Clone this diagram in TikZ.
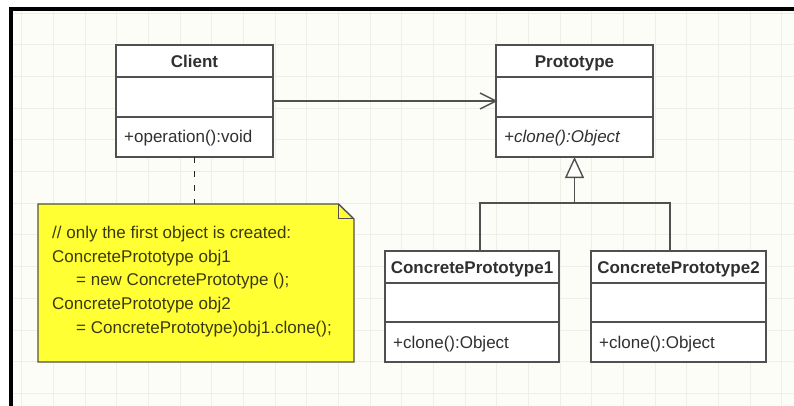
\documentclass[tikz,border=0pt]{standalone}
\usepackage{fontspec}
\setmainfont{Liberation Sans}
\usetikzlibrary{arrows.meta}
\definecolor{bgc}{HTML}{FDFDF7}
\definecolor{gridc}{HTML}{EFEFE9}
\definecolor{linec}{HTML}{505050}
\definecolor{notey}{HTML}{FFFF33}
\definecolor{txt}{HTML}{303030}
\definecolor{notetxt}{HTML}{3A3A10}
\begin{document}
\begin{tikzpicture}[x=1pt,y=-1pt,
 classbox/.style={draw=linec, line width=1.4pt, fill=white, minimum width=157pt, minimum height=112pt, inner sep=0pt, outer sep=0pt},
 classtitle/.style={font=\fontsize{17}{20}\selectfont\bfseries, text=txt, inner sep=0pt, anchor=base},
 member/.style={font=\fontsize{17}{20}\selectfont, text=txt, inner sep=0pt, anchor=base west},
 notetext/.style={font=\fontsize{17}{20}\selectfont, text=notetxt, inner sep=0pt, anchor=base west},
 divider/.style={draw=linec, line width=1.4pt},
 conn/.style={draw=linec, line width=1.4pt},
 dashconn/.style={draw=black!85, line width=1.2pt, dash pattern=on 6pt off 8pt},
]
\useasboundingbox (0,0) rectangle (794,406);
% background, grid and frame
\fill[white] (0,0) rectangle (794,406);
\fill[bgc] (11,9) rectangle (794,406);
\foreach \i in {0,...,24} \draw[gridc, line width=1pt] (21.7+31.67*\i,11) -- (21.7+31.67*\i,406);
\foreach \j in {0,...,12} \draw[gridc, line width=1pt] (13,13.3+31.67*\j) -- (794,13.3+31.67*\j);
\fill[black] (9,7) rectangle (794,11);
\fill[black] (9,7) rectangle (13,406);

% Client
\node[classbox] (client) at (194.5,101) {};
\draw[divider] ([yshift=-32pt]client.north west) -- ([yshift=-32pt]client.north east);
\draw[divider] ([yshift=-72pt]client.north west) -- ([yshift=-72pt]client.north east);
\node[classtitle] (clientT) at ([yshift=-23pt]client.north) {Client};
\node[member] (clientOp) at ([xshift=8pt,yshift=-97.5pt]client.north west) {+operation():void};

% Prototype
\node[classbox] (proto) at (574.5,101) {};
\draw[divider] ([yshift=-32pt]proto.north west) -- ([yshift=-32pt]proto.north east);
\draw[divider] ([yshift=-72pt]proto.north west) -- ([yshift=-72pt]proto.north east);
\node[classtitle] (protoT) at ([yshift=-23pt]proto.north) {Prototype};
\node[member, font=\fontsize{17}{20}\selectfont\itshape] (protoOp) at ([xshift=8pt,yshift=-97.5pt]proto.north west) {+clone():Object};

% ConcretePrototype1
\node[classbox, minimum width=174pt, minimum height=111pt] (cp1) at (472,306.5) {};
\draw[divider] ([yshift=-32pt]cp1.north west) -- ([yshift=-32pt]cp1.north east);
\draw[divider] ([yshift=-71pt]cp1.north west) -- ([yshift=-71pt]cp1.north east);
\node[classtitle] (cp1T) at ([yshift=-22.5pt]cp1.north) {ConcretePrototype1};
\node[member] (cp1Op) at ([xshift=8pt,yshift=-97pt]cp1.north west) {+clone():Object};

% ConcretePrototype2
\node[classbox, minimum width=175pt, minimum height=111pt] (cp2) at (678.5,306.5) {};
\draw[divider] ([yshift=-32pt]cp2.north west) -- ([yshift=-32pt]cp2.north east);
\draw[divider] ([yshift=-71pt]cp2.north west) -- ([yshift=-71pt]cp2.north east);
\node[classtitle] (cp2T) at ([yshift=-22.5pt]cp2.north) {ConcretePrototype2};
\node[member] (cp2Op) at ([xshift=8pt,yshift=-97pt]cp2.north west) {+clone():Object};

% association Client -> Prototype
\draw[conn] (client.east) -- (proto.west);
\draw[conn] ([xshift=-16pt,yshift=8pt]proto.west) -- (proto.west) -- ([xshift=-16pt,yshift=-8pt]proto.west);

% generalization
\coordinate (junc) at (574.5,203);
\draw[conn] ([xshift=8pt]cp1.north) |- (junc) -| ([xshift=-8.5pt]cp2.north);
\draw[conn, -{Triangle[open,length=21pt,width=19pt,fill=white]}] (junc) -- (proto.south);

% note
\coordinate (notetop) at (194.5,204);
\filldraw[fill=notey, draw=linec, line width=1.4pt, line join=miter] (38,204) -- (338.5,204) -- (354,219) -- (354,362) -- (38,362) -- cycle;
\draw[linec, line width=1.2pt] (338.5,204) -- (338.5,218.5) -- (354,218.5);
\draw[dashconn] (client.south) -- (notetop);
\node[notetext] (n1) at (52,238.5) {// only the first object is created:};
\node[notetext] (n2) at (52,262) {ConcretePrototype obj1};
\node[notetext] (n3) at (76,285.7) {= new ConcretePrototype ();};
\node[notetext] (n4) at (52,309.3) {ConcretePrototype obj2};
\node[notetext] (n5) at (76,333.3) {= ConcretePrototype)obj1.clone();};
\end{tikzpicture}
\end{document}
